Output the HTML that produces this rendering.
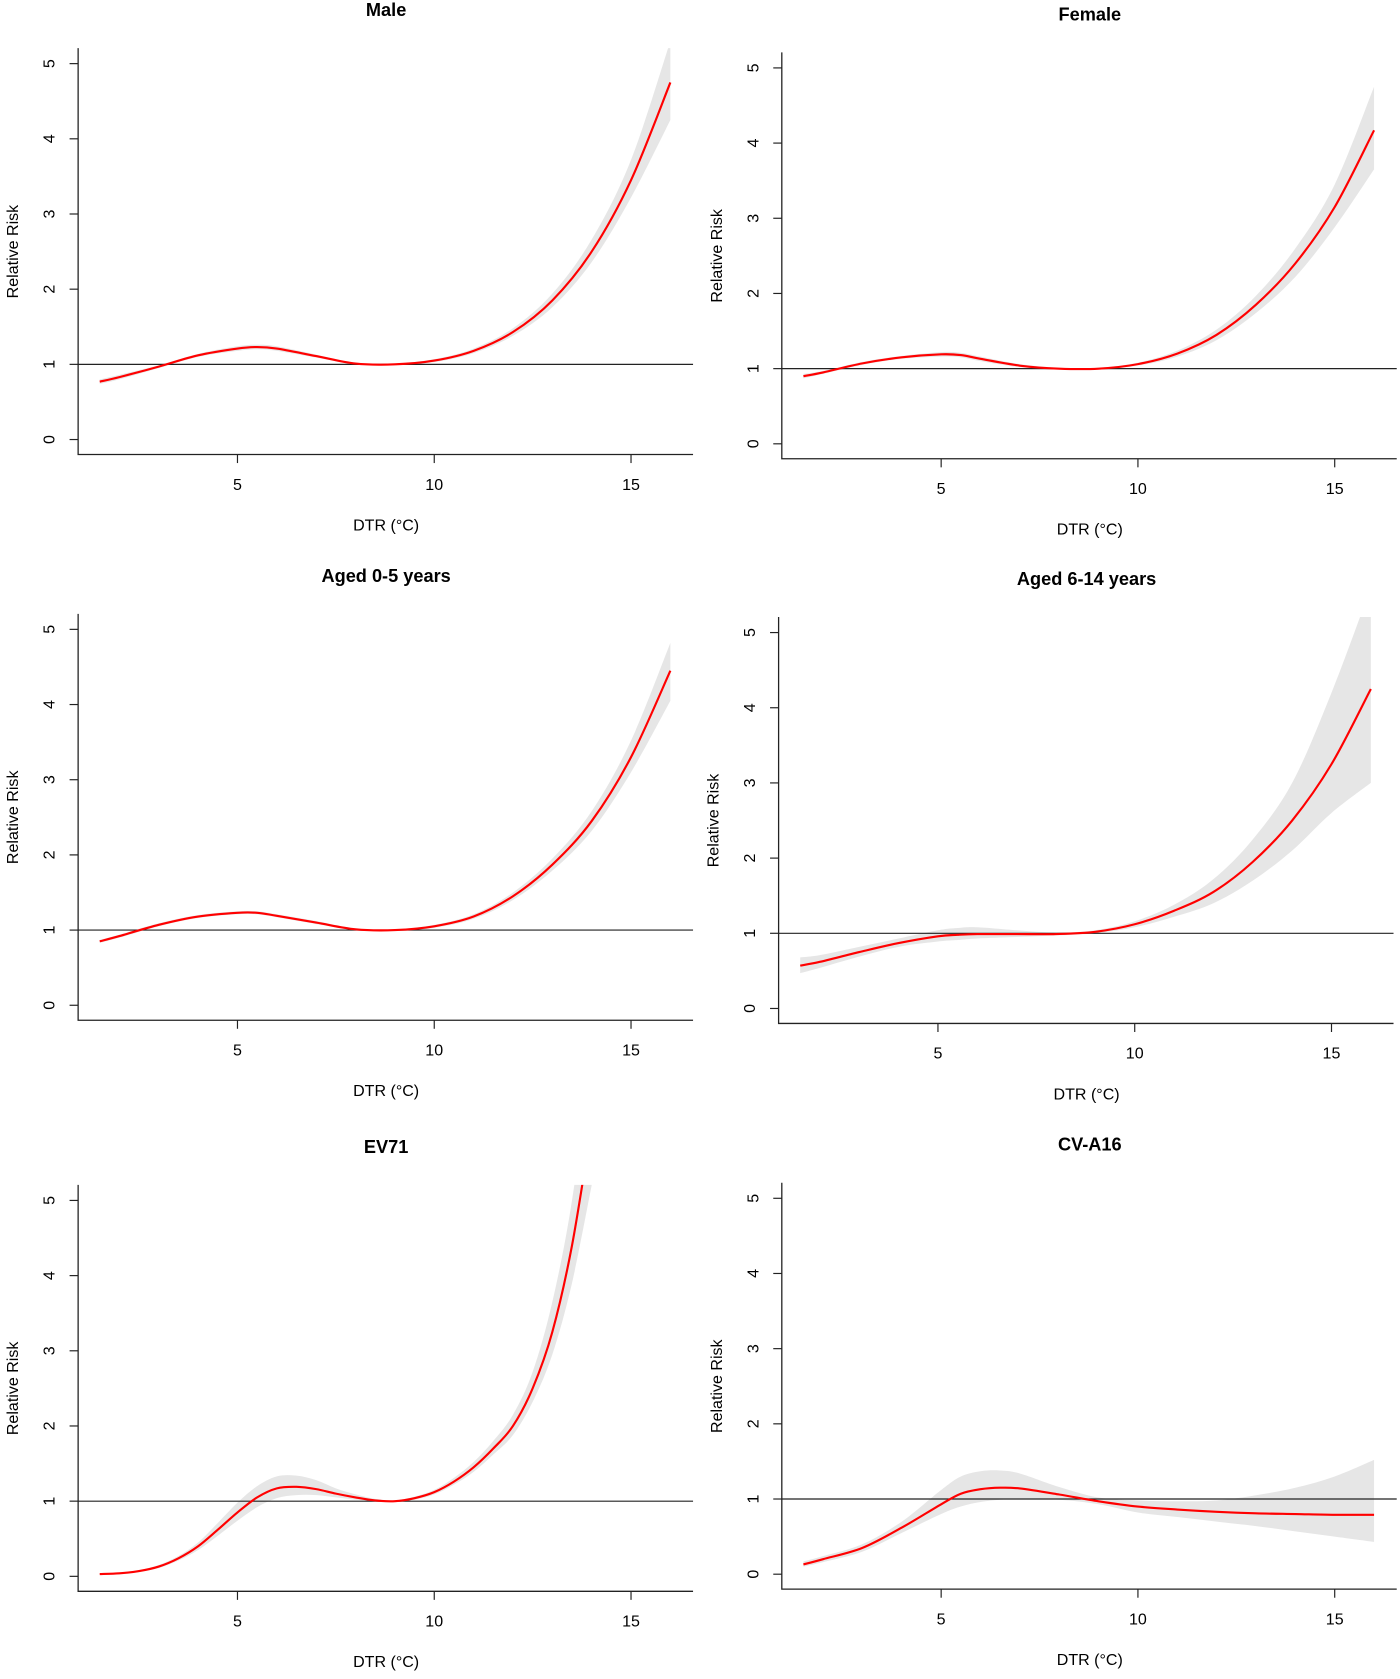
<!DOCTYPE html>
<html><head><meta charset="utf-8"><style>
html,body{margin:0;padding:0;background:#fff;}
svg{display:block;font-family:"Liberation Sans",Arial,sans-serif;}
</style></head><body>
<svg id="chart" width="1400" height="1679" viewBox="0 0 1309 1570" xmlns="http://www.w3.org/2000/svg"></svg>
<script>
const panelTitles = ["Male","Female","Aged 0-5 years","Aged 6-14 years","EV71","CV-A16"];
const panelNames = ["male","female","aged-0-5","aged-6-14","ev71","cv-a16"];
const xTicks = [5,10,15];
const yTicks = [0,1,2,3,4,5];
const xStd = [1.5,2,3,4,5,5.5,6,7,8,9,10,11,12,13,14,15,16];
const maleFit = [0.77,0.83,0.97,1.12,1.21,1.23,1.21,1.11,1.01,1.0,1.05,1.18,1.43,1.85,2.5,3.45,4.75];
const maleLo  = [0.74,0.80,0.95,1.10,1.18,1.20,1.18,1.09,1.00,0.99,1.03,1.15,1.38,1.76,2.36,3.22,4.25];
const maleHi  = [0.80,0.86,0.99,1.14,1.24,1.26,1.24,1.13,1.02,1.01,1.07,1.21,1.48,1.94,2.66,3.72,5.3];
const femFit = [0.90,0.95,1.07,1.15,1.19,1.18,1.13,1.04,1.0,1.0,1.06,1.2,1.45,1.85,2.4,3.15,4.17];
const femLo  = [0.87,0.93,1.05,1.13,1.16,1.15,1.10,1.02,0.99,0.99,1.04,1.16,1.38,1.74,2.22,2.88,3.65];
const femHi  = [0.93,0.97,1.09,1.17,1.22,1.21,1.16,1.06,1.01,1.01,1.08,1.24,1.52,1.97,2.6,3.45,4.75];
const a05Fit = [0.85,0.92,1.07,1.18,1.23,1.23,1.19,1.1,1.01,1.0,1.05,1.18,1.45,1.87,2.45,3.3,4.45];
const a05Lo  = [0.83,0.90,1.05,1.16,1.21,1.21,1.17,1.08,1.0,0.99,1.03,1.15,1.40,1.79,2.32,3.1,4.05];
const a05Hi  = [0.87,0.94,1.09,1.20,1.25,1.25,1.21,1.12,1.02,1.01,1.07,1.21,1.50,1.95,2.58,3.52,4.82];
const a614Fit = [0.57,0.62,0.75,0.87,0.96,0.98,0.99,0.99,0.99,1.02,1.12,1.3,1.55,1.95,2.5,3.25,4.25];
const a614Lo  = [0.47,0.54,0.69,0.82,0.89,0.91,0.93,0.95,0.97,1.0,1.08,1.22,1.4,1.7,2.1,2.6,3.0];
const a614Hi  = [0.68,0.71,0.82,0.93,1.04,1.07,1.08,1.04,1.01,1.04,1.16,1.38,1.72,2.25,3.0,4.2,5.6];
const xEv = [1.5,2,2.5,3,3.5,4,4.5,5,5.5,6,6.5,7,7.5,8,8.5,9,9.5,10,10.5,11,11.5,12,12.5,13,13.5,14];
const evFit = [0.03,0.04,0.07,0.13,0.24,0.4,0.62,0.85,1.05,1.17,1.19,1.16,1.1,1.05,1.01,1.0,1.04,1.12,1.26,1.45,1.7,2.0,2.5,3.25,4.4,6.0];
const evLo  = [0.02,0.03,0.06,0.11,0.21,0.35,0.54,0.74,0.92,1.04,1.08,1.08,1.05,1.02,1.0,0.99,1.02,1.09,1.22,1.39,1.62,1.88,2.32,2.95,3.9,5.2];
const evHi  = [0.04,0.05,0.08,0.15,0.27,0.45,0.71,0.98,1.2,1.33,1.34,1.28,1.17,1.09,1.03,1.01,1.06,1.15,1.31,1.52,1.8,2.15,2.72,3.65,5.0,7.0];
const xCv = [1.5,2,3,4,5,5.5,6,6.5,7,8,9,10,11,12,13,14,15,16];
const cvFit = [0.13,0.2,0.35,0.62,0.93,1.07,1.13,1.15,1.14,1.06,0.97,0.9,0.86,0.83,0.81,0.8,0.79,0.79];
const cvLo  = [0.1,0.16,0.3,0.55,0.8,0.9,0.96,0.99,1.0,0.99,0.93,0.82,0.76,0.70,0.64,0.57,0.5,0.43];
const cvHi  = [0.17,0.24,0.4,0.7,1.12,1.3,1.37,1.38,1.34,1.16,1.02,0.98,0.97,0.98,1.05,1.15,1.3,1.52];
const panelX = [xStd,xStd,xStd,xStd,xEv,xCv];
const panelFit = [maleFit,femFit,a05Fit,a614Fit,evFit,cvFit];
const panelLo = [maleLo,femLo,a05Lo,a614Lo,evLo,cvLo];
const panelHi = [maleHi,femHi,a05Hi,a614Hi,evHi,cvHi];

const offsets = [[0,0],[658,4],[0,529],[655,532],[0,1063],[658,1061]];
const NS = "http://www.w3.org/2000/svg";
const svg = document.getElementById("chart");
function mk(tag, attrs, parent){const e=document.createElementNS(NS,tag);for(const k in attrs)e.setAttribute(k,attrs[k]);parent.appendChild(e);return e;}
function smooth(pts){
  let d="M"+pts[0][0].toFixed(2)+","+pts[0][1].toFixed(2);
  for(let i=0;i<pts.length-1;i++){
    const p0=pts[Math.max(0,i-1)],p1=pts[i],p2=pts[i+1],p3=pts[Math.min(pts.length-1,i+2)];
    const c1=[p1[0]+(p2[0]-p0[0])/6,p1[1]+(p2[1]-p0[1])/6];
    const c2=[p2[0]-(p3[0]-p1[0])/6,p2[1]-(p3[1]-p1[1])/6];
    d+=" C"+c1[0].toFixed(2)+","+c1[1].toFixed(2)+" "+c2[0].toFixed(2)+","+c2[1].toFixed(2)+" "+p2[0].toFixed(2)+","+p2[1].toFixed(2);
  }
  return d;
}
for(let p=0;p<6;p++){
  const dx=offsets[p][0],dy=offsets[p][1];
  const g=mk("g",{},svg);
  
  
  const xs=function(x){return 38+dx+x*36.8;};
  const ys=function(y){return 411+dy-y*70.3;};
  const left=73+dx,right=648+dx,top=45+dy,bottom=425+dy;
  const cid="clip"+p;
  const cp=mk("clipPath",{id:cid},g);
  mk("rect",{x:left,y:top,width:right-left,height:bottom-top},cp);
  const xsArr=panelX[p],fit=panelFit[p],lo=panelLo[p],hi=panelHi[p];
  const up=xsArr.map(function(x,i){return [xs(x),ys(hi[i])];});
  const dn=xsArr.map(function(x,i){return [xs(x),ys(lo[i])];}).reverse();
  const bandD=smooth(up)+" L"+smooth(dn).slice(1)+" Z";
  const band=mk("path",{d:bandD,fill:"#e6e6e6",stroke:"none","clip-path":"url(#"+cid+")"},g);
  
  
  const ref=mk("line",{x1:left,x2:right,y1:ys(1),y2:ys(1),stroke:"#222","stroke-width":1.1},g);
  
  
  const line=mk("path",{d:smooth(xsArr.map(function(x,i){return [xs(x),ys(fit[i])];})),fill:"none",stroke:"#ff0000","stroke-width":2,"clip-path":"url(#"+cid+")"},g);
  
  
  const ax=mk("path",{d:"M"+left+","+top+" L"+left+","+bottom+" L"+right+","+bottom,fill:"none",stroke:"#222","stroke-width":1.2},g);
  
  
  yTicks.forEach(function(v){
    mk("line",{x1:left-8,x2:left,y1:ys(v),y2:ys(v),stroke:"#222","stroke-width":1.1},g);
    const t=mk("text",{x:0,y:0,transform:"translate("+(left-22)+","+ys(v)+") rotate(-90)","text-anchor":"middle","font-size":15},g);
    t.textContent=v;
    
    
  });
  xTicks.forEach(function(v){
    mk("line",{x1:xs(v),x2:xs(v),y1:bottom,y2:bottom+8,stroke:"#222","stroke-width":1.1},g);
    const t=mk("text",{x:xs(v),y:bottom+33,"text-anchor":"middle","font-size":15},g);
    t.textContent=v;
    
    
  });
  const xl=mk("text",{x:361+dx,y:bottom+71,"text-anchor":"middle","font-size":15},g);
  xl.textContent="DTR (°C)";
  
  
  const yl=mk("text",{x:0,y:0,transform:"translate("+(left-56)+","+ys(2.5)+") rotate(-90)","text-anchor":"middle","font-size":15},g);
  yl.textContent="Relative Risk";
  
  
  const ti=mk("text",{x:361+dx,y:15+dy,"text-anchor":"middle","font-size":17,"font-weight":"bold"},g);
  ti.textContent=panelTitles[p];
  
  
}
</script>
</body></html>
